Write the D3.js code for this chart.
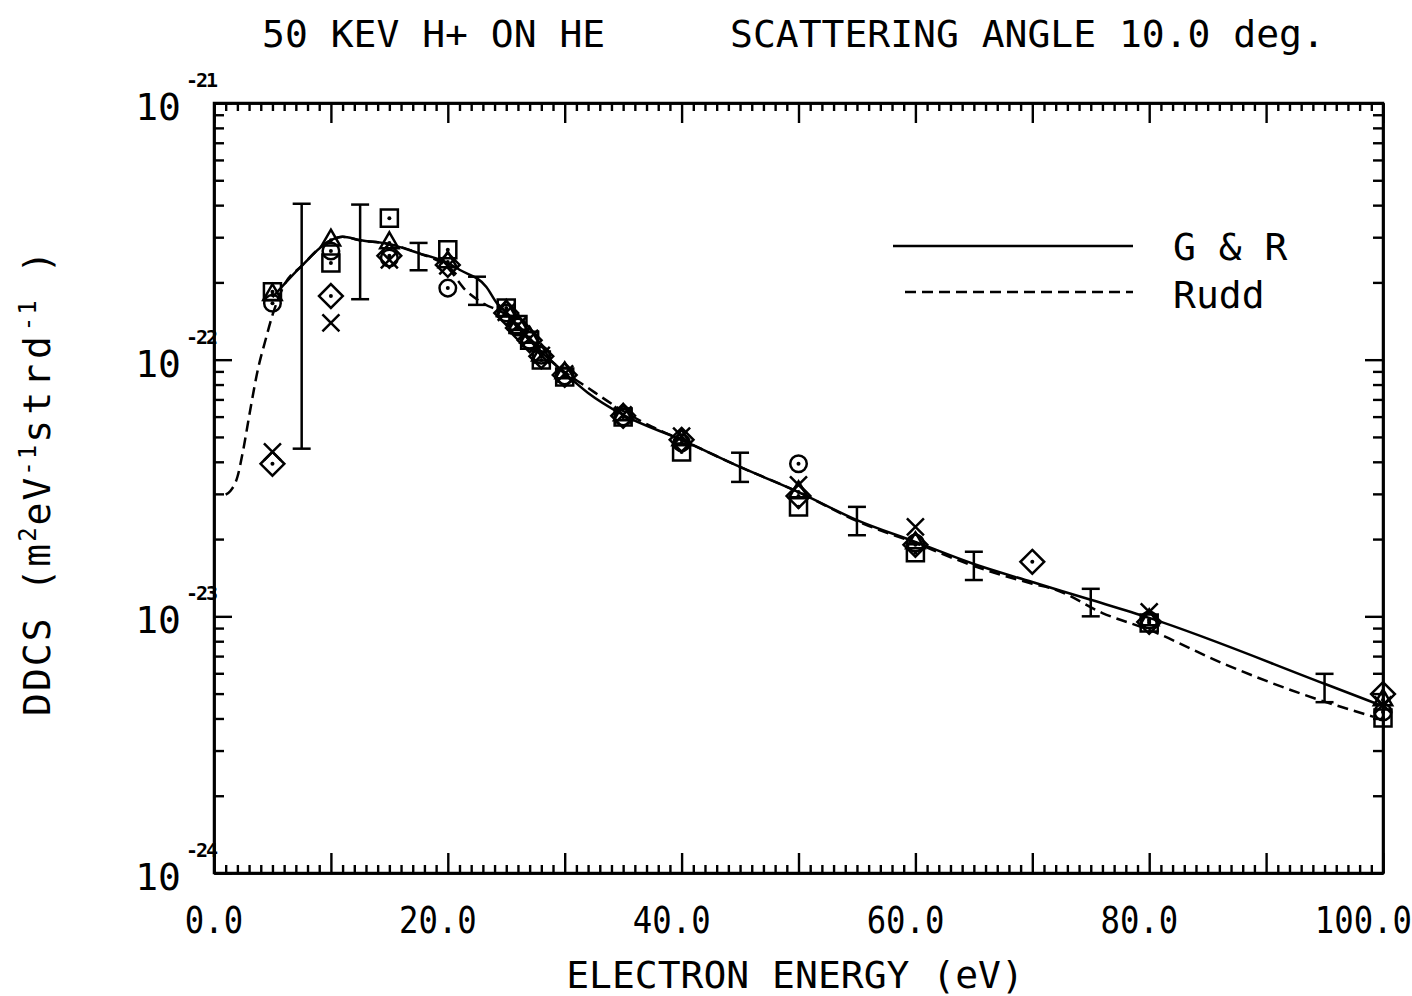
<!DOCTYPE html>
<html>
<head>
<meta charset="utf-8">
<script src="https://cdn.jsdelivr.net/npm/d3@7"></script>
<style>
body { margin: 0; background: #fff; }
svg text { font-family: "DejaVu Sans Mono", monospace; fill: #000; }
.axis path, .axis line { stroke: #000; stroke-width: 2.4; }
</style>
</head>
<body>
<svg width="1412" height="996"></svg>
<script>
// --- data ---
var titleLeft = "50 KEV H+ ON HE";
var titleRight = "SCATTERING ANGLE 10.0 deg.";

// G & R theory (solid)
var grEnergy = [5, 7.5, 10, 11, 12.5, 15, 17.5, 20, 21, 23.3, 24.2, 25, 27, 30, 32, 35, 40, 45, 50, 55, 60, 65, 70, 75, 80, 95, 99.7];
var grDdcs = [1.75e-22, 2.32e-22, 2.92e-22, 3.01e-22, 2.92e-22, 2.82e-22, 2.60e-22, 2.38e-22, 2.24e-22, 1.92e-22, 1.66e-22, 1.52e-22, 1.19e-22, 8.87e-23, 7.42e-23, 6.09e-23, 4.87e-23, 3.82e-23, 3.05e-23, 2.37e-23, 1.95e-23, 1.60e-23, 1.36e-23, 1.16e-23, 9.86e-24, 5.46e-24, 4.52e-24];

// Rudd (dashed)
var ruddEnergy = [1.0, 1.4, 2.0, 2.5, 3.1, 3.8, 4.4, 5, 6, 7.5, 10, 11, 12.5, 15, 17.5, 20, 21.5, 23, 25, 26, 27, 30, 32, 35, 37.5, 40, 45, 50, 55, 60, 65, 70, 72, 76, 80, 86.6, 92.8, 99.2];
var ruddDdcs = [2.98e-23, 3.08e-23, 3.49e-23, 4.45e-23, 6.37e-23, 9.36e-23, 1.19e-22, 1.49e-22, 1.95e-22, 2.32e-22, 2.92e-22, 3.01e-22, 2.92e-22, 2.82e-22, 2.60e-22, 2.28e-22, 1.87e-22, 1.66e-22, 1.49e-22, 1.33e-22, 1.19e-22, 8.96e-23, 7.76e-23, 6.31e-23, 5.47e-23, 4.87e-23, 3.82e-23, 3.05e-23, 2.35e-23, 1.93e-23, 1.57e-23, 1.34e-23, 1.27e-23, 1.03e-23, 8.85e-24, 6.47e-24, 5.03e-24, 4.06e-24];

// measured points with error bars (value +- err)
var ebEnergy = [7.5, 12.5, 17.5, 22.5, 45, 55, 65, 75, 95];
var ebDdcs = [2.25e-22, 2.87e-22, 2.54e-22, 1.87e-22, 3.84e-23, 2.37e-23, 1.585e-23, 1.14e-23, 5.3e-24];
var ebErr = [1.8e-22, 1.15e-22, 0.31e-22, 0.235e-22, 0.5e-23, 0.3e-23, 0.2e-23, 0.14e-23, 0.67e-24];

// experimental data sets, one per marker
var sqEnergy = [5, 10, 15, 20, 25, 26, 27, 28, 30, 35, 40, 50, 60, 80, 100];
var sqDdcs = [1.84e-22, 2.38e-22, 3.56e-22, 2.68e-22, 1.59e-22, 1.37e-22, 1.19e-22, 9.97e-23, 8.56e-23, 5.98e-23, 4.37e-23, 2.67e-23, 1.77e-23, 9.42e-24, 4.02e-24];

var ciEnergy = [5, 10, 15, 20, 25, 26, 27, 28, 30, 35, 40, 50, 60, 80, 100];
var ciDdcs = [1.66e-22, 2.65e-22, 2.49e-22, 1.90e-22, 1.52e-22, 1.34e-22, 1.19e-22, 1.04e-22, 8.64e-23, 5.98e-23, 4.74e-23, 3.93e-23, 1.93e-23, 9.68e-24, 4.24e-24];

var trEnergy = [5, 10, 15, 20, 25, 26, 27, 28, 30, 35, 40, 50, 60, 80, 100];
var trDdcs = [1.79e-22, 2.92e-22, 2.85e-22, 2.40e-22, 1.55e-22, 1.37e-22, 1.22e-22, 1.04e-22, 8.87e-23, 6.09e-23, 4.87e-23, 3.05e-23, 1.93e-23, 9.68e-24, 4.72e-24];

var diEnergy = [5, 10, 15, 20, 25, 26, 27, 28, 30, 35, 40, 50, 60, 70, 80, 100];
var diDdcs = [3.93e-23, 1.77e-22, 2.54e-22, 2.34e-22, 1.52e-22, 1.33e-22, 1.19e-22, 1.03e-22, 8.72e-23, 6.04e-23, 4.87e-23, 2.94e-23, 1.90e-23, 1.63e-23, 9.51e-24, 4.98e-24];

var xsEnergy = [5, 10, 15, 20, 25, 26, 27, 28, 30, 35, 40, 50, 60, 80, 100];
var xsDdcs = [4.37e-23, 1.39e-22, 2.45e-22, 2.32e-22, 1.53e-22, 1.36e-22, 1.21e-22, 1.04e-22, 8.80e-23, 6.09e-23, 5.04e-23, 3.25e-23, 2.23e-23, 1.04e-23, 4.52e-24];

var xTickValues = [0, 20, 40, 60, 80, 100];
var xTickLabels = ["0.0", "20.0", "40.0", "60.0", "80.0", "100.0"];
var yDecades = [-24, -23, -22, -21];
var yTickLabels = ["-24", "-23", "-22", "-21"];

// --- layout ---
var svg = d3.select("svg");
var plotL = 214, plotR = 1383, plotT = 103, plotB = 873;

var x = d3.scaleLinear().domain([0, 100]).range([plotL, plotR]);
var y = d3.scaleLog().domain([1e-24, 1e-21]).range([plotB, plotT]);

function zip(a, b) { return a.map(function (v, i) { return [v, b[i]]; }); }

// ticks
var xMajor = d3.range(0, 101, 10);
var xMinor = d3.range(0, 101, 1).filter(function (v) { return v % 10 != 0; });
var yMajor = yDecades.map(function (e) { return Math.pow(10, e); });
var yMinor = [];
yDecades.slice(0, 3).forEach(function (e) {
    for (var m = 2; m <= 9; m++) yMinor.push(m * Math.pow(10, e));
});

function addAxis(axisFn, scale, values, size, tr) {
    svg.append("g")
        .attr("class", "axis")
        .attr("transform", tr)
        .call(axisFn(scale).tickValues(values).tickSize(-size).tickSizeOuter(0).tickFormat(""));
}
addAxis(d3.axisBottom, x, xMinor, 8, "translate(0," + plotB + ")");
addAxis(d3.axisBottom, x, xMajor, 20, "translate(0," + plotB + ")");
addAxis(d3.axisTop, x, xMinor, 8, "translate(0," + plotT + ")");
addAxis(d3.axisTop, x, xMajor, 20, "translate(0," + plotT + ")");
addAxis(d3.axisLeft, y, yMinor, 10, "translate(" + plotL + ",0)");
addAxis(d3.axisLeft, y, yMajor, 18, "translate(" + plotL + ",0)");
addAxis(d3.axisRight, y, yMinor, 10, "translate(" + plotR + ",0)");
addAxis(d3.axisRight, y, yMajor, 18, "translate(" + plotR + ",0)");
svg.selectAll(".axis text").remove();

// x tick labels, decimal point under the tick
var charW = 19.5;
svg.selectAll(".xlab")
    .data(xTickValues)
    .enter().append("text")
    .attr("class", "xlab")
    .attr("transform", function (d, i) {
        var intLen = xTickLabels[i].indexOf(".");
        return "translate(" + (x(d) - (intLen + 0.5) * charW) + ",933) scale(0.85,1)";
    })
    .style("font-size", "38px")
    .text(function (d, i) { return xTickLabels[i]; });

// y tick labels: 10 with exponent
var ylab = svg.selectAll(".ylab")
    .data(yMajor)
    .enter().append("g")
    .attr("class", "ylab")
    .attr("transform", function (d) { return "translate(0," + y(d) + ")"; });
ylab.append("text")
    .attr("x", 181)
    .attr("y", 17)
    .attr("text-anchor", "end")
    .style("font-size", "38px")
    .text("10");
ylab.append("text")
    .attr("x", 186)
    .attr("y", -16)
    .style("font-size", "20px")
    .style("font-weight", "bold")
    .style("letter-spacing", "-2px")
    .text(function (d, i) { return yTickLabels[i]; });

// titles
svg.append("text").attr("x", 262).attr("y", 47).style("font-size", "38px").text(titleLeft);
svg.append("text").attr("x", 730).attr("y", 47).style("font-size", "38px").text(titleRight);

svg.append("text")
    .attr("x", 795).attr("y", 988)
    .attr("text-anchor", "middle")
    .style("font-size", "38px")
    .text("ELECTRON ENERGY (eV)");

var yt = svg.append("text")
    .attr("transform", "translate(50,716) rotate(-90)")
    .style("font-size", "38px")
    .style("letter-spacing", "2px");
yt.append("tspan").text("DDCS (m");
yt.append("tspan").attr("dy", -14).style("font-size", "24px").text("2");
yt.append("tspan").attr("dy", 14).text("eV");
yt.append("tspan").attr("dy", -14).style("font-size", "24px").text("-1");
yt.append("tspan").attr("dy", 14).style("letter-spacing", "5px").text("strd");
yt.append("tspan").attr("dy", -14).style("font-size", "24px").text("-1");
yt.append("tspan").attr("dy", 14).text(" )");

// curves
var line = d3.line()
    .x(function (d) { return x(d[0]); })
    .y(function (d) { return y(d[1]); })
    .curve(d3.curveMonotoneX);

svg.append("path")
    .datum(zip(grEnergy, grDdcs))
    .attr("d", line)
    .attr("fill", "none")
    .attr("stroke", "#000")
    .attr("stroke-width", 2.5);

svg.append("path")
    .datum(zip(ruddEnergy, ruddDdcs))
    .attr("d", line)
    .attr("fill", "none")
    .attr("stroke", "#000")
    .attr("stroke-width", 2.5)
    .attr("stroke-dasharray", "11,6");

// error bars
var eb = svg.selectAll(".eb")
    .data(ebEnergy.map(function (e, i) { return {x: e, v: ebDdcs[i], err: ebErr[i]}; }))
    .enter().append("g")
    .attr("class", "eb")
    .attr("stroke", "#000")
    .attr("stroke-width", 2.5);
eb.append("line")
    .attr("x1", function (d) { return x(d.x); })
    .attr("x2", function (d) { return x(d.x); })
    .attr("y1", function (d) { return y(d.v + d.err); })
    .attr("y2", function (d) { return y(d.v - d.err); });
eb.append("line")
    .attr("x1", function (d) { return x(d.x) - 9; })
    .attr("x2", function (d) { return x(d.x) + 9; })
    .attr("y1", function (d) { return y(d.v + d.err); })
    .attr("y2", function (d) { return y(d.v + d.err); });
eb.append("line")
    .attr("x1", function (d) { return x(d.x) - 9; })
    .attr("x2", function (d) { return x(d.x) + 9; })
    .attr("y1", function (d) { return y(d.v - d.err); })
    .attr("y2", function (d) { return y(d.v - d.err); });

// markers
var sets = [
    {e: sqEnergy, v: sqDdcs, type: d3.symbolSquare2 || d3.symbolSquare, size: 370, dot: true},
    {e: ciEnergy, v: ciDdcs, type: d3.symbolCircle, size: 215, dot: true},
    {e: trEnergy, v: trDdcs, type: d3.symbolTriangle2 || d3.symbolTriangle, size: 240, dot: true},
    {e: diEnergy, v: diDdcs, type: d3.symbolDiamond2 || d3.symbolDiamond, size: 360, dot: true},
    {e: xsEnergy, v: xsDdcs, type: d3.symbolTimes || d3.symbolCross, size: 190, dot: false}
];
sets.forEach(function (s) {
    var g = svg.append("g");
    var pts = zip(s.e, s.v);
    g.selectAll("path")
        .data(pts)
        .enter().append("path")
        .attr("transform", function (d) { return "translate(" + x(d[0]) + "," + y(d[1]) + ")"; })
        .attr("d", d3.symbol().type(s.type).size(s.size))
        .attr("fill", "none")
        .attr("stroke", "#000")
        .attr("stroke-width", 2.5);
    if (s.dot) {
        g.selectAll("circle")
            .data(pts)
            .enter().append("circle")
            .attr("cx", function (d) { return x(d[0]); })
            .attr("cy", function (d) { return y(d[1]); })
            .attr("r", 2)
            .attr("fill", "#000");
    }
});

// frame
svg.append("rect")
    .attr("x", plotL).attr("y", plotT)
    .attr("width", plotR - plotL).attr("height", plotB - plotT)
    .attr("fill", "none").attr("stroke", "#000").attr("stroke-width", 2.5);

// legend
var legend = svg.append("g");
legend.append("line").attr("x1", 893).attr("x2", 1133).attr("y1", 246).attr("y2", 246)
    .attr("stroke", "#000").attr("stroke-width", 2.5);
legend.append("line").attr("x1", 905).attr("x2", 1133).attr("y1", 292).attr("y2", 292)
    .attr("stroke", "#000").attr("stroke-width", 2.5).attr("stroke-dasharray", "11,6");
legend.append("text").attr("x", 1173).attr("y", 260).style("font-size", "38px").text("G & R");
legend.append("text").attr("x", 1173).attr("y", 308).style("font-size", "38px").text("Rudd");
</script>
</body>
</html>
